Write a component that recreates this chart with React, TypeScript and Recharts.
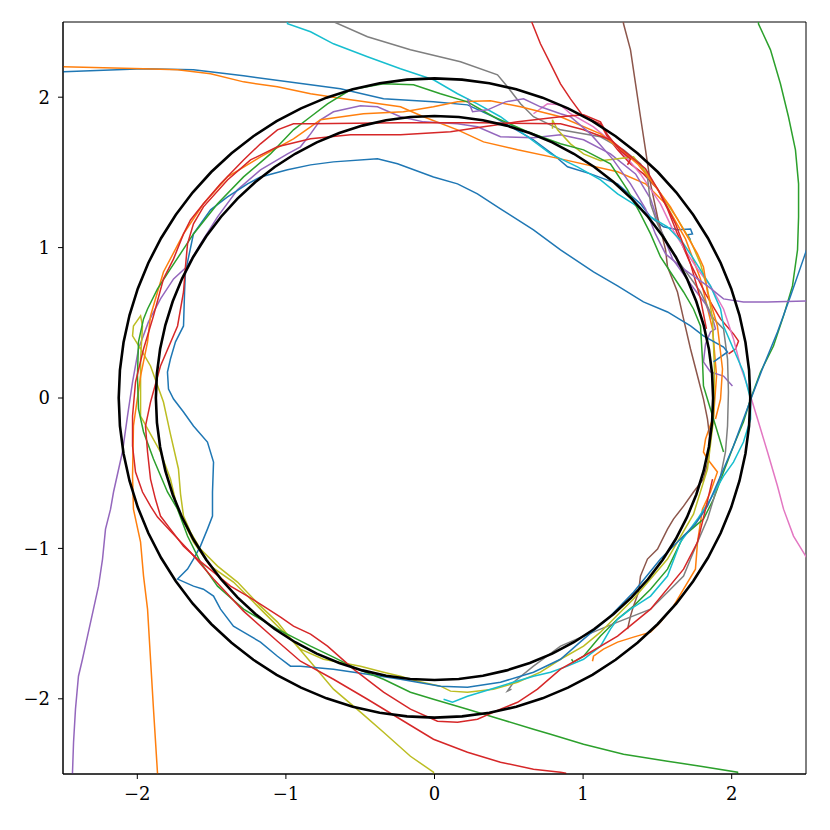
import { LineChart, Line, XAxis, YAxis, ReferenceArea } from "recharts";

type P = [number, number];

const axisTicks = [-2, -1, 0, 1, 2];
const ringRadii = [2.125, 1.875];
const ringAngles = Array.from({ length: 73 }, (_, i) => i * 5);

const blueTop: P[] = [
  [-2.6, 2.17], [-2.497, 2.169], [-1.958, 2.189], [-1.622, 2.182], [-1.285, 2.142], [-0.834, 2.083],
  [-0.633, 2.056], [-0.343, 1.989], [-0.007, 1.969], [0.222, 1.949], [0.397, 1.87], [0.666, 1.717],
  [0.801, 1.617], [0.895, 1.537], [1.05, 1.49], [1.232, 1.424], [1.386, 1.291], [1.454, 1.204],
  [1.541, 1.138], [1.635, 1.118], [1.723, 1.124], [1.736, 1.091], [1.703, 1.085], [1.723, 1.051],
];

const blueRight: P[] = [
  [2.53, 1.06], [2.483, 0.925], [2.396, 0.679], [2.308, 0.439], [2.214, 0.213], [2.147, 0.04],
  [2.079, -0.14], [2.012, -0.319], [1.925, -0.519], [1.837, -0.719], [1.756, -0.838], [1.521, -1.071],
  [1.339, -1.291], [1.164, -1.47], [1.003, -1.603], [0.848, -1.737], [0.666, -1.823], [0.444, -1.89],
  [0.222, -1.923], [0.04, -1.916], [-0.229, -1.87], [-0.451, -1.836], [-0.68, -1.803], [-0.902, -1.783],
  [-0.969, -1.783], [-1.057, -1.717], [-1.171, -1.623], [-1.285, -1.557], [-1.353, -1.517], [-1.44, -1.404],
  [-1.487, -1.317], [-1.555, -1.271], [-1.622, -1.251], [-1.729, -1.204], [-1.662, -1.138], [-1.622, -1.071],
  [-1.575, -0.985], [-1.528, -0.872], [-1.494, -0.785], [-1.494, -0.625], [-1.487, -0.426], [-1.528, -0.293],
  [-1.622, -0.186], [-1.689, -0.093], [-1.756, -0.007], [-1.79, 0.06], [-1.797, 0.173], [-1.777, 0.259],
  [-1.743, 0.373], [-1.689, 0.479], [-1.682, 0.705], [-1.676, 0.838], [-1.622, 1.091], [-1.507, 1.251],
  [-1.393, 1.337], [-1.258, 1.424], [-1.171, 1.47], [-0.989, 1.517], [-0.834, 1.55], [-0.68, 1.57],
  [-0.384, 1.59], [-0.249, 1.557], [-0.007, 1.47], [0.155, 1.424], [0.289, 1.357], [0.444, 1.257],
  [0.666, 1.118], [0.848, 0.985], [1.07, 0.838], [1.232, 0.745], [1.406, 0.639], [1.568, 0.572],
  [1.723, 0.479], [1.81, 0.413], [1.945, 0.339], [1.972, 0.306], [1.878, 0.24],
];

const orangeTop: P[] = [
  [-2.6, 2.2], [-2.497, 2.202], [-1.958, 2.189], [-1.729, 2.182], [-1.507, 2.156], [-1.285, 2.102],
  [-1.057, 2.069], [-0.834, 2.023], [-0.612, 1.989], [-0.229, 1.936], [-0.074, 1.87], [0.155, 1.783],
  [0.33, 1.703], [0.559, 1.65], [0.848, 1.59], [1.232, 1.504], [1.42, 1.424], [1.555, 1.291],
  [1.689, 1.058], [1.79, 0.792], [1.871, 0.459], [1.898, 0.146], [1.878, -0.12], [1.824, -0.273],
  [1.81, -0.359], [1.837, -0.406], [1.904, -0.492], [1.857, -0.625], [1.803, -0.739], [1.77, -0.958],
  [1.756, -1.138], [1.676, -1.271], [1.608, -1.384], [1.521, -1.49], [1.454, -1.557], [1.339, -1.59],
  [1.232, -1.623], [1.137, -1.67], [1.07, -1.717], [1.063, -1.75], [1.07, -1.723],
];

const orangeLeft: P[] = [
  [-1.86, -2.6], [-1.864, -2.495], [-1.891, -2.069], [-1.911, -1.737], [-1.931, -1.404], [-1.958, -1.184],
  [-1.978, -0.958], [-2.026, -0.739], [-2.032, -0.519], [-2.026, -0.186], [-1.978, 0.146], [-1.931, 0.373],
  [-1.911, 0.546], [-1.864, 0.705], [-1.824, 0.838], [-1.689, 1.091], [-1.555, 1.291], [-1.393, 1.47],
  [-1.171, 1.603], [-0.949, 1.723], [-0.834, 1.803], [-0.767, 1.85], [-0.478, 1.89], [-0.209, 1.903],
  [-0.007, 1.936], [0.155, 1.969], [0.377, 1.976], [0.579, 1.936], [0.848, 1.87], [1.117, 1.756],
  [1.232, 1.67], [1.366, 1.557], [1.474, 1.424], [1.588, 1.271], [1.676, 1.118], [1.77, 0.958],
  [1.81, 0.872], [1.837, 0.705], [1.904, 0.479], [1.938, 0.193], [1.925, -0.007], [1.891, -0.14],
];

const greenRight: P[] = [
  [2.19, 2.6], [2.18, 2.488], [2.261, 2.315], [2.328, 2.089], [2.382, 1.87], [2.429, 1.65],
  [2.45, 1.424], [2.45, 1.204], [2.443, 0.985], [2.409, 0.745], [2.349, 0.546], [2.281, 0.346],
  [2.194, 0.173], [2.127, -0.007], [2.079, -0.16], [2.012, -0.319], [1.945, -0.492], [1.878, -0.672],
  [1.81, -0.805], [1.676, -0.918], [1.568, -1.138], [1.454, -1.271], [1.339, -1.384], [1.232, -1.47],
  [1.117, -1.583], [1.003, -1.717], [0.935, -1.756], [0.922, -1.737],
];

const greenBottom: P[] = [
  [2.05, -2.6], [2.039, -2.488], [1.79, -2.448], [1.568, -2.415], [1.272, -2.369], [1.003, -2.302],
  [0.781, -2.236], [0.666, -2.202], [0.444, -2.136], [0.222, -2.069], [-0.007, -2.003], [-0.162, -1.956],
  [-0.343, -1.87], [-0.518, -1.803], [-0.68, -1.723], [-0.834, -1.65], [-1.057, -1.537], [-1.285, -1.404],
  [-1.46, -1.251], [-1.575, -1.091], [-1.662, -0.918], [-1.729, -0.739], [-1.797, -0.625], [-1.891, -0.406],
  [-1.958, -0.226], [-1.992, -0.073], [-1.999, 0.146], [-1.992, 0.373], [-1.958, 0.526], [-1.931, 0.592],
  [-1.864, 0.725], [-1.777, 0.858], [-1.622, 1.091], [-1.46, 1.291], [-1.285, 1.47], [-1.104, 1.623],
  [-0.949, 1.783], [-0.834, 1.87], [-0.72, 1.956], [-0.565, 2.049], [-0.343, 2.089], [-0.141, 2.083],
  [0.04, 2.023], [0.222, 1.969], [0.397, 1.87], [0.626, 1.77], [0.848, 1.69], [1.003, 1.65],
  [1.184, 1.557], [1.299, 1.384], [1.386, 1.224], [1.454, 1.091], [1.521, 0.938], [1.676, 0.705],
  [1.743, 0.592], [1.79, 0.479], [1.803, 0.259], [1.81, 0.08], [1.857, -0.073], [1.904, -0.226],
  [1.945, -0.359],
];

const redTop: P[] = [
  [0.62, 2.6], [0.659, 2.488], [0.713, 2.355], [0.781, 2.222], [0.848, 2.089], [0.915, 1.989],
  [1.003, 1.87], [1.117, 1.823], [1.164, 1.737], [1.232, 1.65], [1.319, 1.557], [1.406, 1.49],
  [1.501, 1.39], [1.568, 1.257], [1.635, 1.091], [1.723, 0.892], [1.824, 0.692], [1.925, 0.526],
  [2.012, 0.426], [2.046, 0.379], [2.026, 0.326], [1.979, 0.293],
];

const redBottom: P[] = [
  [0.9, -2.6], [0.882, -2.495], [0.848, -2.488], [0.666, -2.468], [0.444, -2.422], [0.222, -2.355],
  [-0.007, -2.269], [-0.229, -2.136], [-0.451, -2.003], [-0.68, -1.87], [-0.902, -1.75], [-1.057, -1.617],
  [-1.285, -1.417], [-1.487, -1.204], [-1.642, -1.025], [-1.777, -0.885], [-1.864, -0.792], [-1.911, -0.719],
  [-1.965, -0.625], [-2.012, -0.492], [-2.032, -0.319], [-2.032, -0.12], [-2.012, 0.106], [-1.958, 0.326],
  [-1.891, 0.546], [-1.824, 0.792], [-1.756, 0.925], [-1.689, 1.091], [-1.642, 1.184], [-1.555, 1.291],
  [-1.44, 1.424], [-1.285, 1.583], [-1.171, 1.69], [-1.057, 1.783], [-0.949, 1.823], [-0.834, 1.823],
  [-0.229, 1.83], [0.31, 1.83], [0.848, 1.823], [1.003, 1.783], [1.184, 1.717], [1.299, 1.623],
  [1.42, 1.524], [1.521, 1.357], [1.622, 1.158], [1.723, 0.892], [1.79, 0.659], [1.83, 0.459],
];

const redLoop: P[] = [
  [1.299, 1.55], [1.319, 1.59], [1.252, 1.643], [1.164, 1.75], [1.117, 1.836], [1.003, 1.883],
  [0.848, 1.87], [0.559, 1.836], [0.33, 1.803], [0.108, 1.77], [-0.229, 1.75], [-0.565, 1.75],
  [-0.834, 1.723], [-1.057, 1.67], [-1.238, 1.583], [-1.393, 1.45], [-1.555, 1.271], [-1.622, 1.158],
  [-1.662, 1.025], [-1.676, 0.872], [-1.689, 0.705], [-1.729, 0.479], [-1.844, 0.213], [-1.911, -0.027],
  [-1.945, -0.186], [-1.931, -0.359], [-1.911, -0.539], [-1.878, -0.672], [-1.844, -0.785], [-1.777, -0.872],
  [-1.689, -0.985], [-1.595, -1.071], [-1.487, -1.158], [-1.373, -1.251], [-1.258, -1.317], [-1.151, -1.384],
  [-1.036, -1.457], [-0.949, -1.517], [-0.834, -1.57], [-0.72, -1.65], [-0.545, -1.803], [-0.343, -1.956],
  [-0.162, -2.069], [0.02, -2.149], [0.155, -2.156], [0.289, -2.136], [0.444, -2.069], [0.559, -2.023],
  [0.693, -1.936], [0.848, -1.803], [1.003, -1.717], [1.232, -1.583], [1.454, -1.404], [1.676, -1.138],
  [1.77, -0.958], [1.824, -0.739], [1.871, -0.539],
];

const purpleLeft: P[] = [
  [-2.44, -2.6], [-2.436, -2.488], [-2.429, -2.289], [-2.416, -2.069], [-2.396, -1.85], [-2.369, -1.737],
  [-2.335, -1.583], [-2.295, -1.404], [-2.261, -1.251], [-2.234, -1.071], [-2.214, -0.872], [-2.18, -0.739],
  [-2.16, -0.625], [-2.1, -0.359], [-2.066, -0.12], [-2.032, 0.106], [-1.992, 0.326], [-1.925, 0.506],
  [-1.844, 0.659], [-1.756, 0.792], [-1.662, 0.878], [-1.575, 1.025], [-1.46, 1.204], [-1.326, 1.384],
  [-1.171, 1.517], [-0.989, 1.623], [-0.902, 1.67], [-0.834, 1.756], [-0.767, 1.85], [-0.68, 1.903],
  [-0.498, 1.943], [-0.384, 1.936], [-0.229, 1.87], [-0.074, 1.836], [0.155, 1.823], [0.289, 1.803],
  [0.444, 1.737], [0.666, 1.73], [0.848, 1.75], [1.003, 1.717], [1.184, 1.623], [1.353, 1.49],
  [1.454, 1.324], [1.521, 1.124], [1.602, 0.925], [1.723, 0.758], [1.824, 0.625], [1.878, 0.506],
  [1.891, 0.459], [1.857, 0.439], [1.824, 0.359], [1.81, 0.24], [1.857, 0.173], [1.945, 0.146],
  [2.005, 0.08],
];

const purpleRight: P[] = [
  [2.6, 0.66], [2.51, 0.645], [2.241, 0.639], [2.079, 0.639], [1.945, 0.659], [1.837, 0.745],
  [1.77, 0.792], [1.676, 0.858], [1.555, 0.958], [1.487, 1.091], [1.42, 1.257], [1.319, 1.424],
  [1.198, 1.59], [1.05, 1.756], [0.915, 1.87], [0.848, 1.89], [0.713, 1.936], [0.599, 1.989],
  [0.478, 1.969], [0.357, 1.916], [0.256, 1.903], [0.222, 1.989],
];

const brownTop: P[] = [
  [1.26, 2.6], [1.272, 2.488], [1.319, 2.315], [1.353, 2.089], [1.386, 1.87], [1.42, 1.65],
  [1.454, 1.424], [1.501, 1.204], [1.555, 0.985], [1.568, 0.872], [1.635, 0.705], [1.676, 0.526],
  [1.723, 0.326], [1.77, 0.146], [1.81, -0.007], [1.837, -0.14], [1.851, -0.253], [1.844, -0.406],
  [1.81, -0.539], [1.743, -0.625], [1.676, -0.719], [1.608, -0.805], [1.568, -0.872], [1.501, -1.005],
  [1.433, -1.071], [1.386, -1.184], [1.373, -1.291], [1.339, -1.384], [1.319, -1.45], [1.299, -1.537],
];

const pinkRight: P[] = [
  [2.53, -1.15], [2.51, -1.071], [2.416, -0.918], [2.349, -0.739], [2.308, -0.585], [2.241, -0.359],
  [2.174, -0.14], [2.106, 0.08], [2.059, 0.213], [2.012, 0.393], [1.945, 0.592], [1.857, 0.745],
  [1.77, 0.858], [1.703, 0.958], [1.608, 1.111], [1.521, 1.291], [1.386, 1.49], [1.232, 1.67],
  [1.07, 1.803], [0.915, 1.89], [0.848, 1.949], [0.76, 1.956], [0.666, 1.89],
];

const grayTop: P[] = [
  [-0.7, 2.6], [-0.68, 2.502], [-0.451, 2.402], [-0.162, 2.315], [0.175, 2.236], [0.424, 2.149],
  [0.491, 2.069], [0.579, 1.956], [0.666, 1.87], [0.848, 1.783], [1.117, 1.737], [1.272, 1.65],
  [1.386, 1.557], [1.433, 1.47], [1.454, 1.291], [1.501, 1.158], [1.568, 1.025], [1.635, 0.918],
  [1.703, 0.825], [1.79, 0.705], [1.878, 0.526], [1.945, 0.459], [1.972, 0.259], [1.978, 0.04],
  [1.972, -0.186], [1.958, -0.359], [1.925, -0.519], [1.878, -0.672], [1.837, -0.805], [1.77, -0.958],
  [1.723, -1.071], [1.676, -1.184], [1.568, -1.291], [1.454, -1.404], [1.232, -1.49], [1.117, -1.537],
  [1.003, -1.583], [0.848, -1.65], [0.666, -1.783], [0.532, -1.89], [0.491, -1.949], [0.518, -1.936],
];

const oliveBottom: P[] = [
  [0.0, -2.6], [-0.007, -2.488], [-0.162, -2.382], [-0.343, -2.222], [-0.498, -2.089], [-0.68, -1.936],
  [-0.834, -1.756], [-0.949, -1.623], [-1.057, -1.49], [-1.171, -1.384], [-1.326, -1.224], [-1.46, -1.118],
  [-1.575, -1.005], [-1.642, -0.892], [-1.689, -0.785], [-1.709, -0.639], [-1.723, -0.472], [-1.777, -0.24],
  [-1.824, -0.027], [-1.911, 0.213], [-1.978, 0.326], [-2.032, 0.413], [-2.026, 0.479], [-1.978, 0.546],
  [-1.965, 0.479], [-1.978, 0.259], [-1.978, -0.12], [-1.911, -0.24], [-1.844, -0.359], [-1.777, -0.539],
  [-1.729, -0.739], [-1.622, -0.958], [-1.507, -1.118], [-1.353, -1.224], [-1.218, -1.357], [-1.083, -1.49],
  [-0.902, -1.67], [-0.747, -1.737], [-0.498, -1.783], [-0.343, -1.823], [-0.229, -1.85], [-0.114, -1.883],
  [0.04, -1.916], [0.108, -1.949], [0.222, -1.956], [0.397, -1.936], [0.559, -1.89], [0.713, -1.823],
  [0.848, -1.737], [1.003, -1.65], [1.117, -1.557], [1.339, -1.337], [1.568, -1.071], [1.743, -0.772],
  [1.837, -0.472], [1.878, -0.14], [1.884, 0.193], [1.871, 0.526], [1.837, 0.725], [1.79, 0.892],
  [1.723, 1.045], [1.635, 1.191], [1.521, 1.357], [1.433, 1.49], [1.339, 1.603], [1.232, 1.59],
  [1.117, 1.577], [1.003, 1.623], [0.915, 1.69], [0.828, 1.783], [0.794, 1.85], [0.794, 1.79],
];

const cyanTop: P[] = [
  [-1.0, 2.6], [-0.989, 2.488], [-0.834, 2.435], [-0.68, 2.355], [-0.451, 2.269], [-0.229, 2.189],
  [-0.007, 2.116], [0.155, 2.023], [0.289, 1.956], [0.444, 1.87], [0.626, 1.737], [0.781, 1.623],
  [0.962, 1.537], [1.117, 1.45], [1.232, 1.357], [1.339, 1.291], [1.454, 1.204], [1.568, 1.138],
  [1.676, 1.025], [1.743, 0.925], [1.857, 0.745], [1.925, 0.592], [1.945, 0.479], [2.012, 0.326],
  [2.079, 0.173], [2.127, -0.007], [2.127, -0.14], [2.079, -0.293], [2.012, -0.426], [1.945, -0.519],
  [1.857, -0.672], [1.77, -0.805], [1.655, -0.958], [1.568, -1.184], [1.454, -1.317], [1.319, -1.404],
  [1.232, -1.47], [1.184, -1.537], [1.117, -1.65], [1.003, -1.737], [0.895, -1.783], [0.781, -1.823],
  [0.666, -1.85], [0.444, -1.916], [0.222, -1.983], [0.121, -2.023], [0.061, -2.003],
];

const trajectories: { pts: P[]; color: string }[] = [
  { pts: blueTop, color: "#1f77b4" },
  { pts: orangeTop, color: "#ff7f0e" },
  { pts: greenRight, color: "#2ca02c" },
  { pts: redTop, color: "#d62728" },
  { pts: purpleLeft, color: "#9467bd" },
  { pts: brownTop, color: "#8c564b" },
  { pts: pinkRight, color: "#e377c2" },
  { pts: grayTop, color: "#7f7f7f" },
  { pts: oliveBottom, color: "#bcbd22" },
  { pts: cyanTop, color: "#17becf" },
  { pts: blueRight, color: "#1f77b4" },
  { pts: orangeLeft, color: "#ff7f0e" },
  { pts: greenBottom, color: "#2ca02c" },
  { pts: redBottom, color: "#d62728" },
  { pts: purpleRight, color: "#9467bd" },
  { pts: redLoop, color: "#d62728" },
];

const toRows = (pts: P[]) => pts.map(([x, y]) => ({ x, y }));

const ringRows = (r: number) =>
  ringAngles.map((a) => ({
    x: r * Math.cos((a * Math.PI) / 180),
    y: r * Math.sin((a * Math.PI) / 180),
  }));

const fmt = (v: number) => (v < 0 ? "\u2212" + Math.abs(v) : String(v));

const tickStyle = { fill: "#000", fontSize: 18, fontFamily: "'DejaVu Serif', serif" };

export default function App() {
  return (
    <LineChart width={814} height={814} margin={{ top: 14, right: 16, bottom: 10, left: 5 }}>
      <XAxis
        type="number"
        dataKey="x"
        domain={[-2.5, 2.5]}
        ticks={axisTicks}
        allowDataOverflow
        tickFormatter={fmt}
        tick={tickStyle}
        tickSize={5}
        tickMargin={8}
        height={38}
        stroke="#000"
      />
      <YAxis
        type="number"
        dataKey="y"
        domain={[-2.5, 2.5]}
        ticks={axisTicks}
        allowDataOverflow
        tickFormatter={fmt}
        tick={tickStyle}
        tickSize={5}
        tickMargin={8}
        width={50}
        stroke="#000"
      />
      <ReferenceArea x1={-2.5} x2={2.5} y1={-2.5} y2={2.5} fill="none" stroke="#000" strokeWidth={1} />
      {trajectories.map((t, i) => (
        <Line
          key={i}
          data={toRows(t.pts)}
          dataKey="y"
          type="linear"
          stroke={t.color}
          strokeWidth={1.5}
          dot={false}
          activeDot={false}
          isAnimationActive={false}
        />
      ))}
      {ringRadii.map((r) => (
        <Line
          key={"ring" + r}
          data={ringRows(r)}
          dataKey="y"
          type="linear"
          stroke="#000"
          strokeWidth={2.6}
          dot={false}
          activeDot={false}
          isAnimationActive={false}
        />
      ))}
    </LineChart>
  );
}
